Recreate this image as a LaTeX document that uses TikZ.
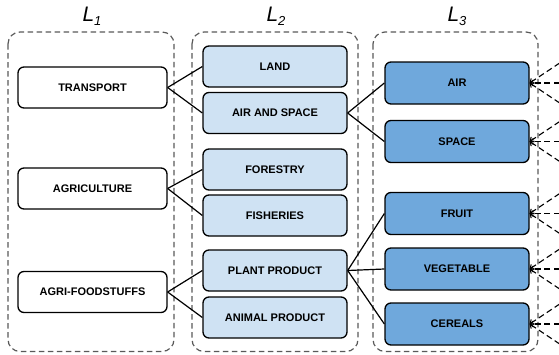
\documentclass[tikz,border=0pt]{standalone}
\usepackage{fontspec}
\setmainfont{Liberation Sans}
\usetikzlibrary{arrows.meta}
\definecolor{lightb}{HTML}{CFE2F3}
\definecolor{midb}{HTML}{6FA8DC}
\definecolor{dashgray}{HTML}{595959}
\begin{document}
\begin{tikzpicture}[x=1pt,y=-1pt,
  box/.style={draw=black, line width=1.3pt, rounded corners=6pt, minimum height=41pt, font=\fontsize{11}{13}\selectfont\bfseries, inner sep=0pt},
  lone/.style={box, fill=white, minimum width=149pt},
  ltwo/.style={box, fill=lightb, minimum width=144pt},
  lthree/.style={box, fill=midb, minimum width=144pt, minimum height=42pt},
  group/.style={draw=dashgray, line width=1.2pt, dash pattern=on 5.5pt off 3.5pt, rounded corners=12pt},
  link/.style={line width=1.2pt, black},
  ext/.style={line width=1.1pt, black, dash pattern=on 6pt off 3.5pt, -{Straight Barb[length=3pt,width=6pt]}},
  lev/.style={font=\fontsize{21}{24}\selectfont\itshape}
]
\useasboundingbox (0,0) rectangle (559,354);

% containers
\draw[group] (8,32) rectangle (174,351.5);
\draw[group] (192,32) rectangle (358,351.5);
\draw[group] (373,32) rectangle (538,351.5);

% level labels
\node[lev] (lab1) at (92,16) {L\raisebox{-0.2em}{\fontsize{13}{13}\selectfont 1}};
\node[lev] (lab2) at (276,16) {L\raisebox{-0.2em}{\fontsize{13}{13}\selectfont 2}};
\node[lev] (lab3) at (457,16) {L\raisebox{-0.2em}{\fontsize{13}{13}\selectfont 3}};

% L1
\node[lone] (tr) at (92.5,87.5) {TRANSPORT};
\node[lone] (ag) at (92.5,188.5) {AGRICULTURE};
\node[lone] (af) at (92.5,292) {AGRI-FOODSTUFFS};

% L2
\node[ltwo] (land) at (275,66.5) {LAND};
\node[ltwo] (airsp) at (275,113) {AIR AND SPACE};
\node[ltwo] (forest) at (275,169.5) {FORESTRY};
\node[ltwo] (fish) at (275,215.5) {FISHERIES};
\node[ltwo] (plant) at (275,270.5) {PLANT PRODUCT};
\node[ltwo] (animal) at (275,317.5) {ANIMAL PRODUCT};

% L3
\node[lthree] (air) at (457,83) {AIR};
\node[lthree] (space) at (457,141.5) {SPACE};
\node[lthree] (fruit) at (457,213.5) {FRUIT};
\node[lthree] (veg) at (457,269) {VEGETABLE};
\node[lthree] (cer) at (457,324) {CEREALS};

% links L1 -> L2
\draw[link] (tr.east) -- (land.west);
\draw[link] (tr.east) -- (airsp.west);
\draw[link] (ag.east) -- (forest.west);
\draw[link] (ag.east) -- (fish.west);
\draw[link] (af.east) -- (plant.west);
\draw[link] (af.east) -- (animal.west);

% links L2 -> L3
\draw[link] (airsp.east) -- (air.west);
\draw[link] (airsp.east) -- (space.west);
\draw[link] (plant.east) -- (fruit.west);
\draw[link] (plant.east) -- (veg.west);
\draw[link] (plant.east) -- (cer.west);

% incoming dashed arrows from the right
\foreach \n in {air,space,fruit,veg,cer}{
  \path (\n.east) ++(30,-20) coordinate (\n-u);
  \path (\n.east) ++(30,0) coordinate (\n-m);
  \path (\n.east) ++(30,20) coordinate (\n-d);
  \draw[ext] (\n-u) -- (\n.east);
  \draw[ext] (\n-m) -- (\n.east);
  \draw[ext] (\n-d) -- (\n.east);
}
\end{tikzpicture}
\end{document}
